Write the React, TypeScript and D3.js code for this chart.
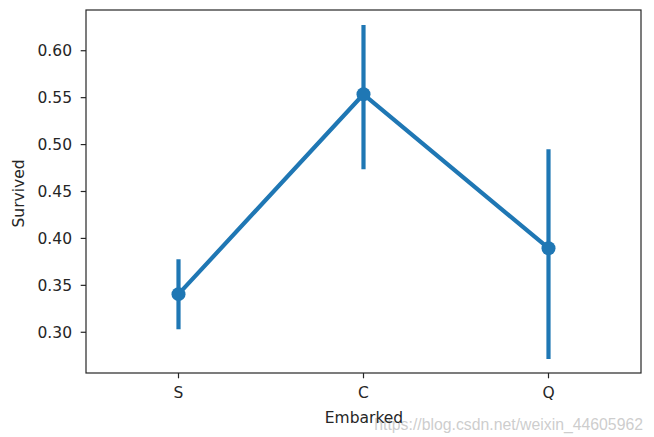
import React from "react";
import * as d3 from "d3";

const categories = ["S", "C", "Q"];
const means = [0.3406, 0.5536, 0.3896];
const ciLow = [0.3032, 0.4737, 0.2716];
const ciHigh = [0.3778, 0.6274, 0.4950];
const yTicks = [0.30, 0.35, 0.40, 0.45, 0.50, 0.55, 0.60];

const W = 654, H = 437;
const M = { left: 86, top: 10, right: 641, bottom: 373 };
const color = "#1f77b4";
const font = "DejaVu Sans, sans-serif";
const fs = 15.5;

export default function App() {
  const x = d3.scalePoint<string>().domain(categories).range([M.left, M.right]).padding(0.5);
  const y = d3.scaleLinear().domain([0.2566, 0.6434]).range([M.bottom, M.top]);
  const line = d3.line<number>().x((_, i) => x(categories[i])!).y((d) => y(d));
  return (
    <svg width={W} height={H} style={{ position: "absolute", left: 0, top: 0, background: "#fff" }}>
      <rect x={0} y={0} width={W} height={H} fill="#fff" />
      {categories.map((c, i) => (
        <line key={"e" + c} x1={x(c)} x2={x(c)} y1={y(ciLow[i])} y2={y(ciHigh[i])} stroke={color} strokeWidth={4.2} />
      ))}
      <path d={line(means) || ""} fill="none" stroke={color} strokeWidth={4.2} strokeLinejoin="round" />
      {categories.map((c, i) => (
        <circle key={"m" + c} cx={x(c)} cy={y(means[i])} r={7} fill={color} />
      ))}
      <rect x={M.left} y={M.top} width={M.right - M.left} height={M.bottom - M.top} fill="none" stroke="#262626" strokeWidth={1.2} />
      {yTicks.map((t) => (
        <g key={t}>
          <line x1={M.left - 5.3} x2={M.left} y1={y(t)} y2={y(t)} stroke="#262626" strokeWidth={1.2} />
          <text x={M.left - 14} y={y(t)} dy="0.35em" textAnchor="end" fontFamily={font} fontSize={fs} fill="#262626">{t.toFixed(2)}</text>
        </g>
      ))}
      {categories.map((c) => (
        <g key={"t" + c}>
          <line x1={x(c)} x2={x(c)} y1={M.bottom} y2={M.bottom + 5.3} stroke="#262626" strokeWidth={1.2} />
          <text x={x(c)} y={M.bottom + 20} dy="0.35em" textAnchor="middle" fontFamily={font} fontSize={fs} fill="#262626">{c}</text>
        </g>
      ))}
      <text x={643} y={424} dy="0.35em" textAnchor="end" fontFamily="Liberation Sans, Arial, sans-serif" fontSize={15.8} fill="#c4c4c4" fillOpacity={0.85}>https://blog.csdn.net/weixin_44605962</text>
      <text x={364} y={418} dy="0.35em" textAnchor="middle" fontFamily={font} fontSize={fs} fill="#262626">Embarked</text>
      <text transform={`translate(18.5,${(M.top + M.bottom) / 2 + 2}) rotate(-90)`} dy="0.35em" textAnchor="middle" fontFamily={font} fontSize={fs} fill="#262626">Survived</text>
    </svg>
  );
}
